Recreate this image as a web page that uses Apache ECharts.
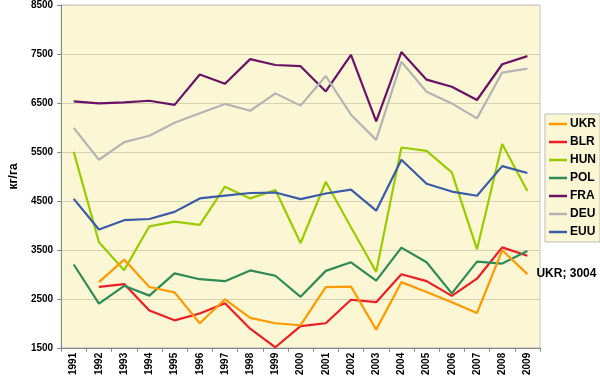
<!DOCTYPE html>
<html>
<head>
<meta charset="utf-8">
<script src="https://cdn.jsdelivr.net/npm/echarts@6/dist/echarts.min.js"></script>
<style>
html,body{margin:0;padding:0;background:#fff;}
#chart{width:600px;height:378px;}
</style>
</head>
<body>
<div id="chart"></div>
<script>
const years = ['1991','1992','1993','1994','1995','1996','1997','1998','1999','2000','2001','2002','2003','2004','2005','2006','2007','2008','2009'];
const UKR = [null,2840,3300,2740,2630,2000,2490,2110,2000,1960,2740,2750,1870,2840,2640,2430,2210,3490,3004];
const BLR = [null,2745,2800,2260,2060,2200,2410,1890,1510,1940,2000,2480,2430,3000,2860,2560,2910,3550,3380];
const HUN = [5500,3655,3085,3980,4075,4010,4790,4550,4720,3640,4890,3960,3050,5590,5520,5080,3510,5660,4700];
const POL = [3200,2400,2765,2565,3020,2900,2860,3080,2970,2540,3070,3245,2870,3545,3245,2610,3260,3220,3475];
const FRA = [6530,6490,6510,6545,6460,7080,6890,7395,7275,7250,6735,7480,6125,7540,6975,6830,6560,7290,7455];
const DEU = [5990,5340,5700,5830,6095,6290,6480,6340,6695,6445,7050,6260,5745,7340,6730,6490,6185,7120,7200];
const EUU = [4540,3915,4105,4130,4275,4550,4605,4660,4670,4535,4650,4730,4300,5340,4850,4690,4605,5210,5070];
const yTicks = {min:1500, max:8500, step:1000};

const names = ['UKR','BLR','HUN','POL','FRA','DEU','EUU'];
const dataSets = [UKR,BLR,HUN,POL,FRA,DEU,EUU];
const colors = ['#FF9900','#EE1C25','#99CC00','#2E8B57','#6B1166','#B4B4B4','#3A5BA8'];

const series = names.map((n,i)=>({
  name:n, type:'line', data:dataSets[i], symbol:'none', showSymbol:false,
  lineStyle:{width:2.2,color:colors[i]}, itemStyle:{color:colors[i]},
  connectNulls:false, animation:false, z: 2
}));
series[0].endLabel = {show:true, formatter:'{a}; {c}', color:'#000', fontWeight:'bold', fontSize:12, fontFamily:'Liberation Sans, Arial', distance:9};
series[0].z = 3;

const chart = echarts.init(document.getElementById('chart'));
chart.setOption({
  animation:false,
  backgroundColor:'#fff',
  grid:{left:47,right:60,top:4,bottom:30,show:true,backgroundColor:'#FBF7D4',borderColor:'#C4C4C4',borderWidth:1},
  legend:{
    orient:'vertical', left:545, top:114, data:names,
    icon:'rect', itemWidth:18, itemHeight:2.5, itemGap:6,
    backgroundColor:'#FBF7D4', borderColor:'#BDBDBD', borderWidth:1,
    padding:[4,4,4,4],
    textStyle:{fontSize:12,fontWeight:'bold',color:'#000',fontFamily:'Liberation Sans, Arial',padding:[0,0,0,-2]}
  },
  xAxis:{
    type:'category', data:years, boundaryGap:true,
    axisLine:{lineStyle:{color:'#888',width:1}},
    axisTick:{show:true,length:4,lineStyle:{color:'#888'}},
    axisLabel:{rotate:90,fontSize:10,fontWeight:'bold',color:'#000',fontFamily:'Liberation Sans, Arial',margin:5,interval:0}
  },
  yAxis:{
    type:'value', min:yTicks.min, max:yTicks.max, interval:yTicks.step,
    name:'кг/га', nameLocation:'middle', nameRotate:90, nameGap:33,
    nameTextStyle:{fontSize:12,fontWeight:'bold',color:'#000',fontFamily:'Liberation Sans, Arial'},
    axisLine:{show:true,lineStyle:{color:'#888',width:1}},
    axisTick:{show:true,length:4,lineStyle:{color:'#888'}},
    axisLabel:{fontSize:10,fontWeight:'bold',color:'#000',fontFamily:'Liberation Sans, Arial',margin:8,formatter:function(v){return String(v);}},
    splitLine:{show:true,lineStyle:{color:'#D6D1B3',width:1}}
  },
  series:series
});
</script>
</body>
</html>
